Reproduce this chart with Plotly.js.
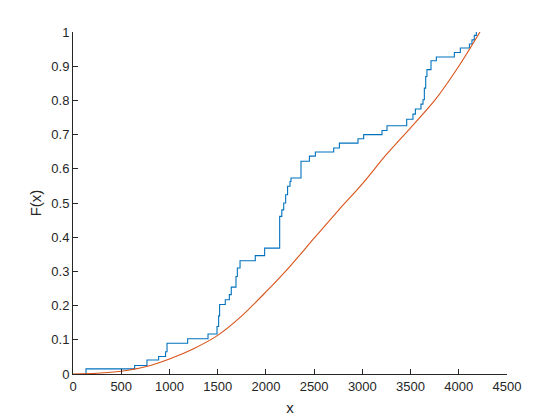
<!DOCTYPE html>
<html>
<head>
<meta charset="utf-8">
<script src="https://cdn.plot.ly/plotly-3.0.1.min.js"></script>
<style>
  html, body { margin: 0; padding: 0; background: #fff; }
  #plot { width: 560px; height: 420px; }
</style>
</head>
<body>
<div id="plot"></div>
<script>
// empirical cdf: jump positions and level after each jump
const ecdf_x = [135, 639, 767, 888, 960, 975, 1189, 1400, 1493, 1510, 1520, 1579, 1621, 1641,
    1690, 1704, 1732, 1890, 1987, 2143, 2165, 2185, 2205, 2225, 2250, 2260, 2364, 2451,
    2513, 2703, 2762, 2955, 3014, 3204, 3256, 3460, 3525, 3550, 3608, 3629, 3643, 3657,
    3670, 3712, 3767, 3954, 4016, 4110, 4137, 4161, 4182];
const ecdf_y = [0.015, 0.025, 0.041, 0.051, 0.065, 0.09, 0.103, 0.117, 0.139, 0.17, 0.203, 0.217, 0.232, 0.254,
    0.285, 0.31, 0.331, 0.346, 0.368, 0.461, 0.48, 0.5, 0.524, 0.549, 0.563, 0.573, 0.622, 0.637,
    0.649, 0.661, 0.675, 0.688, 0.7, 0.712, 0.726, 0.745, 0.76, 0.775, 0.789, 0.802, 0.836, 0.87,
    0.89, 0.916, 0.927, 0.94, 0.953, 0.965, 0.977, 0.99, 1.0];

// fitted cdf
const fit_x = [0, 250, 500, 750, 1000, 1250, 1500, 1750, 2000, 2250, 2500, 2750, 3000, 3250, 3500, 3750, 4000, 4220];
const fit_y = [0, 0.002, 0.008, 0.021, 0.044, 0.074, 0.113, 0.17, 0.24, 0.315, 0.397, 0.478, 0.556, 0.642, 0.72, 0.8, 0.9, 1.0];

const x_ticks = [0, 500, 1000, 1500, 2000, 2500, 3000, 3500, 4000, 4500];
const y_ticks = [0, 0.1, 0.2, 0.3, 0.4, 0.5, 0.6, 0.7, 0.8, 0.9, 1];

const axis_color = "#262626";
const font_family = "Arial, 'Liberation Sans', Helvetica, sans-serif";

let data = [
    {
        x: [ecdf_x[0]].concat(ecdf_x),
        y: [0].concat(ecdf_y),
        mode: "lines",
        line: { shape: "hv", color: "#0072BD", width: 1.1 },
        hoverinfo: "skip"
    },
    {
        x: fit_x,
        y: fit_y,
        mode: "lines",
        line: { shape: "spline", smoothing: 0.8, color: "#D95319", width: 1.1 },
        hoverinfo: "skip"
    }
];

let layout = {
    width: 560,
    height: 420,
    showlegend: false,
    paper_bgcolor: "#fff",
    plot_bgcolor: "#fff",
    margin: { l: 73, r: 53, t: 32, b: 46, pad: 0 },
    font: { family: font_family, size: 13, color: axis_color },
    xaxis: {
        range: [0, 4500],
        tickvals: x_ticks,
        ticktext: x_ticks.map(String),
        ticks: "inside",
        ticklen: 5,
        tickcolor: axis_color,
        showline: true,
        linecolor: axis_color,
        linewidth: 1,
        showgrid: false,
        zeroline: false,
        automargin: false,
        title: { text: "x", font: { size: 15, color: axis_color }, standoff: 9 }
    },
    yaxis: {
        range: [0, 1],
        tickvals: y_ticks,
        ticktext: y_ticks.map(String),
        ticks: "inside",
        ticklen: 5,
        tickcolor: axis_color,
        showline: true,
        linecolor: axis_color,
        linewidth: 1,
        showgrid: false,
        zeroline: false,
        automargin: false,
        title: { text: "F(x)", font: { size: 15, color: axis_color }, standoff: 6 }
    }
};

let config = { staticPlot: true, displayModeBar: false };

window.addEventListener("load", () => {
    Plotly.newPlot("plot", data, layout, config);
});
</script>
</body>
</html>
